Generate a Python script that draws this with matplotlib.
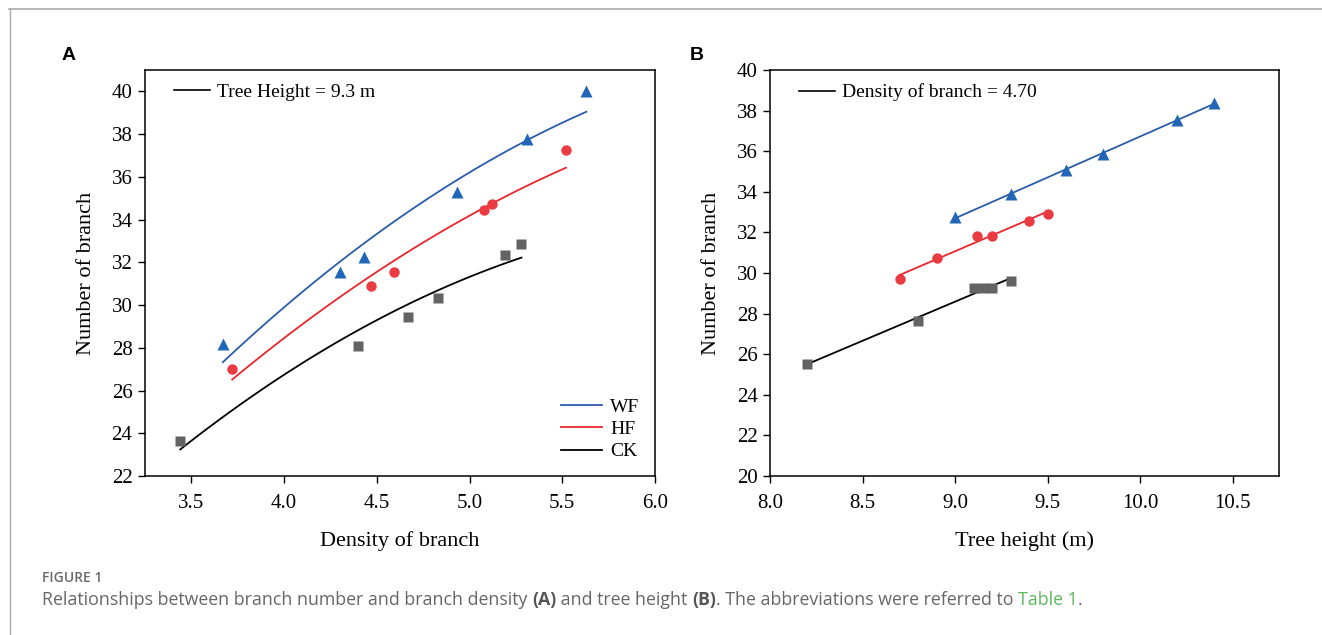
import numpy as np
import matplotlib
matplotlib.use("Agg")
import matplotlib.pyplot as plt
from matplotlib.lines import Line2D

# ---- data ----
# panel A: number of branch vs density of branch (tree height = 9.3 m)
a_wf_x = [3.67, 4.30, 4.43, 4.93, 5.31, 5.63]
a_wf_y = [28.2, 31.55, 32.27, 35.3, 37.77, 40.0]
a_hf_x = [3.72, 4.47, 4.59, 5.08, 5.12, 5.52]
a_hf_y = [27.0, 30.9, 31.57, 34.47, 34.71, 37.27]
a_ck_x = [3.44, 4.40, 4.67, 4.83, 5.19, 5.28]
a_ck_y = [23.64, 28.07, 29.43, 30.32, 32.34, 32.85]

# fitted curves of panel A
a_wf_fit_x = [3.67, 4.30, 4.93, 5.63]
a_wf_fit_y = [27.31, 32.07, 35.79, 39.06]
a_hf_fit_x = [3.72, 4.30, 5.08, 5.52]
a_hf_fit_y = [26.47, 30.48, 34.43, 36.49]
a_ck_fit_x = [3.44, 4.03, 4.83, 5.28]
a_ck_fit_y = [23.25, 26.89, 30.71, 32.21]

# panel B: number of branch vs tree height (density of branch = 4.70)
b_wf_x = [9.0, 9.3, 9.6, 9.8, 10.2, 10.4]
b_wf_y = [32.75, 33.89, 35.07, 35.87, 37.54, 38.38]
b_hf_x = [8.7, 8.9, 9.12, 9.2, 9.4, 9.5]
b_hf_y = [29.72, 30.75, 31.84, 31.84, 32.56, 32.93]
b_ck_x = [8.2, 8.8, 9.1, 9.15, 9.2, 9.3]
b_ck_y = [25.52, 27.66, 29.26, 29.26, 29.26, 29.61]

groups = ["WF", "HF", "CK"]

BLUE = "#2a5caa"
RED = "#e8262d"
BLACK = "#000000"
MBLUE = "#2166b8"
MRED = "#ea3b42"
MGRAY = "#636363"

plt.rcParams["font.family"] = ["Liberation Serif", "DejaVu Serif"]

fig = plt.figure(figsize=(13.22, 6.35), dpi=100)
fig.patch.set_facecolor("white")

# page frame lines
fig.add_artist(Line2D([9 / 1322, 1], [1 - 9 / 635, 1 - 9 / 635], color="#aaaaaa", lw=1.2))
fig.add_artist(Line2D([9.5 / 1322, 9.5 / 1322], [0, 1 - 9 / 635], color="#aaaaaa", lw=1.0))

axA = fig.add_axes([145 / 1322, 1 - 476 / 635, 510 / 1322, 406 / 635])
axB = fig.add_axes([770 / 1322, 1 - 476 / 635, 509 / 1322, 406 / 635])


def style(ax):
    for s in ax.spines.values():
        s.set_linewidth(1.1)
    ax.tick_params(direction="out", length=5, width=1.0, labelsize=15)
    ax.tick_params(axis="x", pad=8)
    ax.tick_params(axis="y", pad=4)


def fit_line(ax, x, y, deg, color):
    p = np.polyfit(x, y, deg)
    xs = np.linspace(min(x), max(x), 100)
    ax.plot(xs, np.polyval(p, xs), color=color, lw=1.3, zorder=2)


# panel A
fit_line(axA, a_wf_fit_x, a_wf_fit_y, 2, BLUE)
fit_line(axA, a_hf_fit_x, a_hf_fit_y, 2, RED)
fit_line(axA, a_ck_fit_x, a_ck_fit_y, 2, BLACK)
axA.plot(a_wf_x, a_wf_y, "^", color=MBLUE, ms=9, mec="none", zorder=3)
axA.plot(a_hf_x, a_hf_y, "o", color=MRED, ms=7.5, mec="none", zorder=3)
axA.plot(a_ck_x, a_ck_y, "s", color=MGRAY, ms=6.8, mec="none", zorder=3)
axA.set_xlim(3.25, 6.0)
axA.set_ylim(22, 41)
axA.set_xticks([3.5, 4.0, 4.5, 5.0, 5.5, 6.0])
axA.set_yticks(range(22, 41, 2))
axA.set_xlabel("Density of branch", fontsize=16, labelpad=13)
axA.set_ylabel("Number of branch", fontsize=16, labelpad=11)
style(axA)

legA1 = axA.legend([Line2D([], [], color="black", lw=1.2)], ["Tree Height = 9.3 m"],
                   loc="upper left", frameon=False, fontsize=14, handlelength=1.85,
                   handletextpad=0.35, borderaxespad=0.3, bbox_to_anchor=(0.03, 1.0))
axA.add_artist(legA1)
axA.legend([Line2D([], [], color=c, lw=1.3) for c in (BLUE, RED, BLACK)], groups,
           loc="lower right", frameon=False, fontsize=14, handlelength=2.15,
           handletextpad=0.4, labelspacing=0.25, borderaxespad=0.4)

# panel B
fit_line(axB, b_wf_x, b_wf_y, 1, BLUE)
fit_line(axB, b_hf_x, b_hf_y, 1, RED)
fit_line(axB, b_ck_x, b_ck_y, 1, BLACK)
axB.plot(b_wf_x, b_wf_y, "^", color=MBLUE, ms=9, mec="none", zorder=3)
axB.plot(b_hf_x, b_hf_y, "o", color=MRED, ms=7.5, mec="none", zorder=3)
axB.plot(b_ck_x, b_ck_y, "s", color=MGRAY, ms=6.8, mec="none", zorder=3)
axB.set_xlim(8.0, 10.75)
axB.set_ylim(20, 40)
axB.set_xticks([8.0, 8.5, 9.0, 9.5, 10.0, 10.5])
axB.set_yticks(range(20, 41, 2))
axB.set_xlabel("Tree height (m)", fontsize=16, labelpad=13)
axB.set_ylabel("Number of branch", fontsize=16, labelpad=11)
style(axB)
axB.legend([Line2D([], [], color="black", lw=1.2)], ["Density of branch = 4.70"],
           loc="upper left", frameon=False, fontsize=14, handlelength=1.85,
           handletextpad=0.35, borderaxespad=0.3, bbox_to_anchor=(0.03, 1.0))

# panel letters
sans = ["Liberation Sans", "DejaVu Sans"]
fig.text(62 / 1322, 1 - 55 / 635, "A", fontsize=14, fontweight="bold", family=sans, va="center")
fig.text(690 / 1322, 1 - 55 / 635, "B", fontsize=14, fontweight="bold", family=sans, va="center")

# caption
cap = ["Open Sans", "DejaVu Sans"]
fig.text(42 / 1322, 1 - 578 / 635, "FIGURE 1", fontsize=10, color="#6a6a6a",
         fontweight="semibold", family=cap, va="center")

pieces = [
    ("Relationships between branch number and branch density ", "normal", "#666666"),
    ("(A)", "bold", "#555555"),
    (" and tree height ", "normal", "#666666"),
    ("(B)", "bold", "#555555"),
    (". The abbreviations were referred to ", "normal", "#666666"),
    ("Table 1", "normal", "#5cb85c"),
    (".", "normal", "#666666"),
]
fig.canvas.draw()
renderer = fig.canvas.get_renderer()
x = 42 / 1322
for txt, w, c in pieces:
    t = fig.text(x, 1 - 600 / 635, txt, fontsize=12.8, color=c, fontweight=w,
                 family=cap, va="center")
    bb = t.get_window_extent(renderer)
    x += bb.width / fig.bbox.width

fig.savefig("out.png", dpi=100, facecolor="white")
